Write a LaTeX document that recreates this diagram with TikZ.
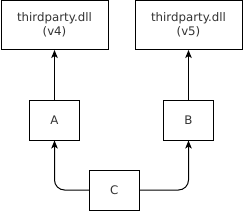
\documentclass[tikz,border=0pt]{standalone}
\usepackage{fontspec}
\setmainfont{DejaVu Sans}
\usetikzlibrary{arrows.meta}
\begin{document}
\begin{tikzpicture}[x=1pt,y=-1pt,
  box/.style={draw=black,line width=1pt,fill=white,inner sep=0pt,align=center,
    font=\fontsize{11.8}{14}\selectfont,text=black!80},
  conn/.style={draw=black,line width=1pt,-{Stealth[length=8pt,width=6.5pt,inset=2pt]}}]
\useasboundingbox (0,0) rectangle (243,211);
\node[box,minimum width=107pt,minimum height=49pt] (d4) at (54.5,25) {thirdparty.dll\\(v4)};
\node[box,minimum width=107pt,minimum height=49pt] (d5) at (188.5,25) {thirdparty.dll\\(v5)};
\node[box,minimum width=50pt,minimum height=40pt] (a) at (54.5,120) {A};
\node[box,minimum width=50pt,minimum height=40pt] (b) at (188.5,120) {B};
\node[box,minimum width=50pt,minimum height=40pt] (c) at (114.3,190) {C};
\draw[conn] (a.north) -- (d4.south);
\draw[conn] (b.north) -- (d5.south);
\draw[conn,rounded corners=10pt] (c.west) -| (a.south);
\draw[conn,rounded corners=10pt] (c.east) -| (b.south);
\end{tikzpicture}
\end{document}
